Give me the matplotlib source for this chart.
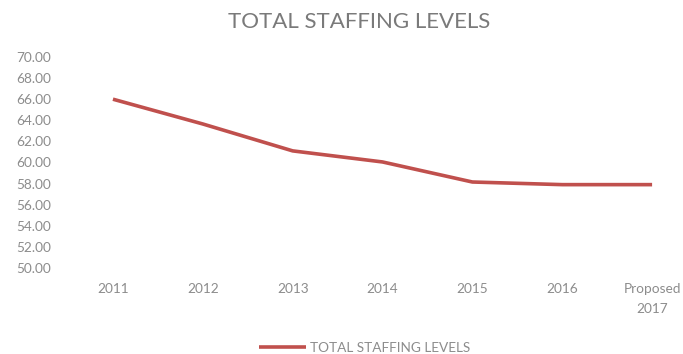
import matplotlib.pyplot as plt

anos = ["2011", "2012", "2013", "2014", "2015", "2016", "Proposed\n2017"]
niveis = [66.0, 63.65, 61.1, 60.05, 58.15, 57.9, 57.9]
valores_y = [50, 52, 54, 56, 58, 60, 62, 64, 66, 68, 70]

plt.rcParams['font.family'] = ['Lato', 'DejaVu Sans']
cinza = '#8c8c8c'

fig = plt.figure(figsize=(6.83, 3.54), dpi=100)
ax = fig.add_axes([0.0996, 0.243, 0.9004, 0.596])

x = list(range(len(anos)))
ax.plot(x, niveis, color='#C0504D', linewidth=2.6, solid_capstyle='butt',
        label='TOTAL STAFFING LEVELS')

ax.set_xlim(-0.5, 6.344)
ax.set_ylim(50, 70)
ax.set_xticks(x)
ax.set_xticklabels(anos, color=cinza, fontsize=9.8, linespacing=1.75)
ax.set_yticks(valores_y)
ax.set_yticklabels([f"{v:.2f}" for v in valores_y], color=cinza, fontsize=9.8)
ax.tick_params(axis='x', length=0, pad=11)
ax.tick_params(axis='y', length=0, pad=12)
for s in ax.spines.values():
    s.set_visible(False)

fig.suptitle('TOTAL STAFFING LEVELS', x=0.526, y=0.965, fontsize=16,
             color='#7a7a7a')

fig.legend(loc='lower center', bbox_to_anchor=(0.534, -0.035), frameon=False,
           fontsize=9.8, labelcolor=cinza, handlelength=3.4, handletextpad=0.3)

fig.savefig('out.png', dpi=100)
